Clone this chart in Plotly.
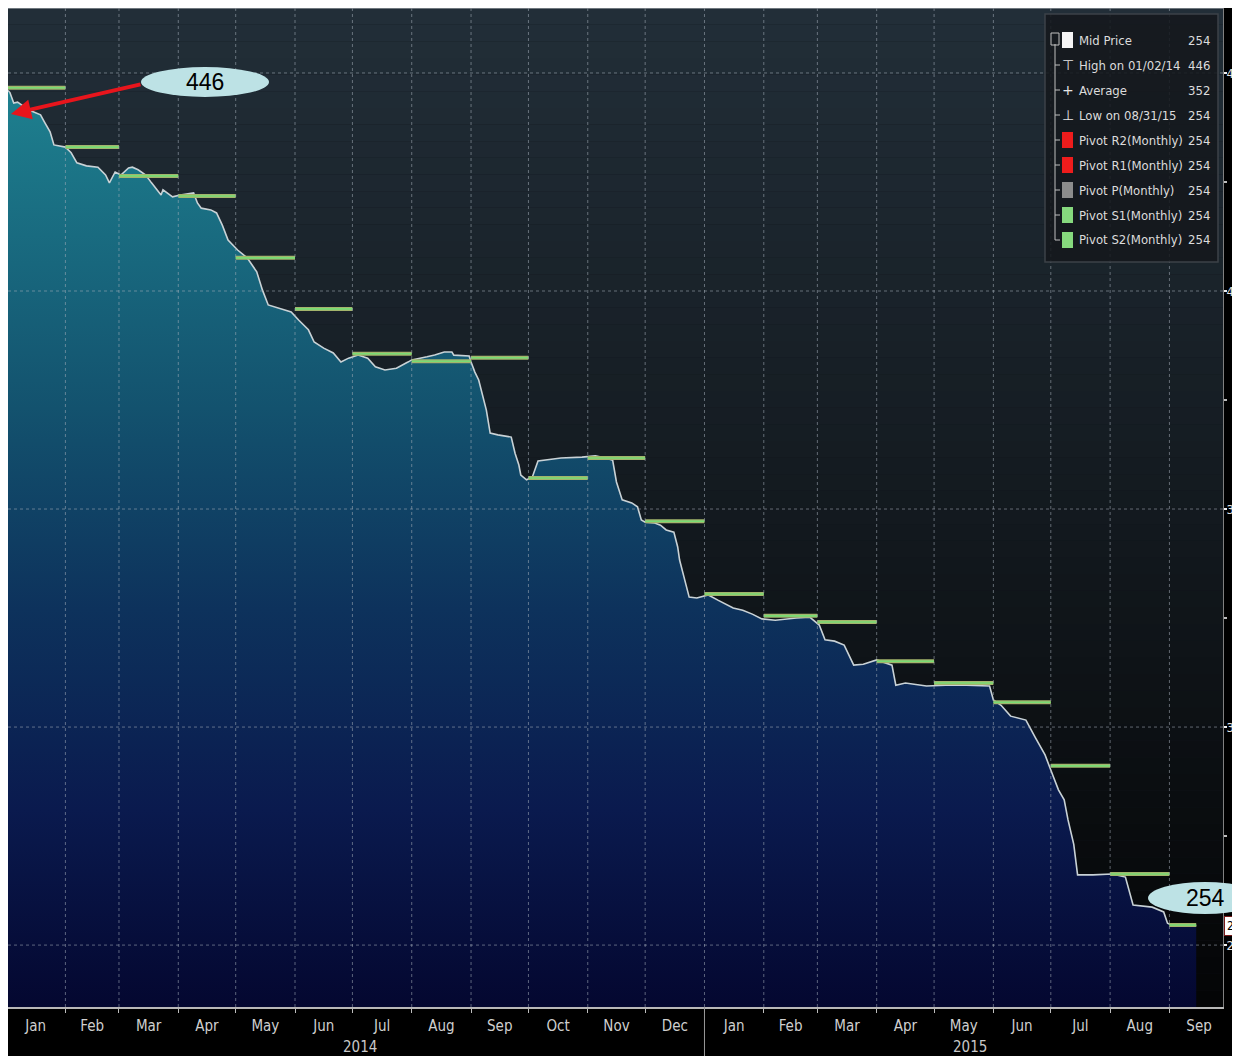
import plotly.graph_objects as go
import pandas as pd

# ---------------- data ----------------
dates = [
    "2014-01-02", "2014-01-03", "2014-01-05", "2014-01-07", "2014-01-13", "2014-01-19", "2014-01-21",
    "2014-01-24", "2014-01-26", "2014-02-01", "2014-02-04", "2014-02-07", "2014-02-12", "2014-02-18",
    "2014-02-22", "2014-02-24", "2014-02-27", "2014-03-02", "2014-03-06", "2014-03-08", "2014-03-11",
    "2014-03-15", "2014-03-18", "2014-03-21", "2014-03-23", "2014-03-24", "2014-03-26", "2014-03-29",
    "2014-04-02", "2014-04-09", "2014-04-11", "2014-04-13", "2014-04-18", "2014-04-21", "2014-04-24",
    "2014-04-27", "2014-05-02", "2014-05-07", "2014-05-12", "2014-05-15", "2014-05-18", "2014-05-23",
    "2014-05-30", "2014-06-03", "2014-06-08", "2014-06-11", "2014-06-16", "2014-06-21", "2014-06-25",
    "2014-06-29", "2014-07-04", "2014-07-09", "2014-07-13", "2014-07-18", "2014-07-24", "2014-07-30",
    "2014-08-01", "2014-08-09", "2014-08-13", "2014-08-18", "2014-08-22", "2014-08-23", "2014-08-31",
    "2014-09-01", "2014-09-03", "2014-09-05", "2014-09-09", "2014-09-11", "2014-09-15", "2014-09-22",
    "2014-09-24", "2014-09-26", "2014-09-27", "2014-09-30", "2014-10-03", "2014-10-06", "2014-10-10",
    "2014-10-18", "2014-10-29", "2014-11-05", "2014-11-12", "2014-11-14", "2014-11-16", "2014-11-19",
    "2014-11-24", "2014-11-27", "2014-11-29", "2014-12-01", "2014-12-06", "2014-12-09", "2014-12-12",
    "2014-12-16", "2014-12-18", "2014-12-19", "2014-12-21", "2014-12-24", "2014-12-28", "2015-01-03",
    "2015-01-08", "2015-01-12", "2015-01-16", "2015-01-21", "2015-01-26", "2015-01-31", "2015-02-07",
    "2015-02-18", "2015-02-25", "2015-03-02", "2015-03-05", "2015-03-10", "2015-03-15", "2015-03-20",
    "2015-03-25", "2015-04-01", "2015-04-09", "2015-04-11", "2015-04-16", "2015-04-27", "2015-05-07",
    "2015-05-18", "2015-05-30", "2015-06-01", "2015-06-05", "2015-06-10", "2015-06-18", "2015-06-23",
    "2015-06-28", "2015-07-02", "2015-07-05", "2015-07-08", "2015-07-10", "2015-07-13", "2015-07-15",
    "2015-07-23", "2015-08-02", "2015-08-09", "2015-08-13", "2015-08-23", "2015-08-29", "2015-08-31",
    "2015-09-02", "2015-09-09", "2015-09-15",
]
mid_price = [
    446.0, 445.5, 443.1, 443.3, 441.5, 440.4, 438.8,
    436.5, 433.5, 433.0, 431.7, 429.4, 428.7, 428.4,
    426.6, 424.8, 427.3, 426.6, 428.2, 428.4, 427.8,
    426.6, 424.8, 423.2, 422.0, 423.2, 422.5, 421.6,
    422.0, 422.5, 420.2, 419.0, 418.6, 417.9, 415.1,
    411.7, 409.4, 407.6, 404.4, 400.2, 396.8, 396.1,
    395.2, 393.3, 391.1, 388.3, 386.9, 385.8, 383.7,
    384.6, 385.3, 384.6, 382.6, 381.9, 382.3, 383.7,
    384.2, 384.9, 385.3, 386.0, 386.0, 385.3, 385.1,
    383.7, 381.4, 379.6, 372.7, 367.4, 367.0, 366.5,
    362.8, 360.1, 357.8, 356.7, 357.3, 361.0, 361.2,
    361.7, 361.9, 362.2, 361.5, 361.2, 356.2, 352.1,
    351.4, 350.5, 347.5, 347.0, 346.8, 346.3, 345.2,
    344.7, 341.3, 338.3, 334.9, 329.8, 329.6, 330.3,
    329.1, 328.2, 327.3, 326.8, 325.9, 324.8, 324.5,
    325.0, 325.2, 323.4, 320.0, 319.7, 318.8, 314.2,
    314.4, 315.4, 314.2, 309.6, 310.1, 309.4, 309.6,
    309.6, 309.4, 306.2, 305.0, 302.5, 301.6, 297.5,
    293.6, 289.0, 285.6, 283.3, 278.7, 273.1, 266.1,
    266.1, 266.3, 265.6, 259.2, 258.7, 257.6, 255.0,
    254.6, 254.6, 254.4,
]

pivot_months = [
    "2014-01", "2014-02", "2014-03", "2014-04", "2014-05", "2014-06", "2014-07",
    "2014-08", "2014-09", "2014-10", "2014-11", "2014-12", "2015-01", "2015-02",
    "2015-03", "2015-04", "2015-05", "2015-06", "2015-07", "2015-08", "2015-09",
]
pivot_levels = [
    446.6, 433.0, 426.4, 421.8, 407.6, 395.9, 385.6,
    383.9, 384.7, 357.1, 361.7, 347.2, 330.5, 325.5,
    324.1, 315.1, 310.1, 305.7, 291.1, 266.3, 254.6,
]

y_ticks = [250, 300, 350, 400, 450]

legend_labels = ["Mid Price", "High on 01/02/14", "Average", "Low on 08/31/15",
                 "Pivot R2(Monthly)", "Pivot R1(Monthly)", "Pivot P(Monthly)",
                 "Pivot S1(Monthly)", "Pivot S2(Monthly)"]
legend_values = ["254", "446", "352", "254", "254", "254", "254", "254", "254"]

callout_high = "446"
callout_last = "254"
year_labels = ["2014", "2015"]

# ---------------- layout helpers (page pixel -> paper) ----------------
# the page body adds an 8 px offset; the figure itself fills the rest
FIG_W, FIG_H = 1232, 1048
L, R, T, B = 8, 1223, 8, 1007   # plot area in page pixels


def px(x):
    return (x - L) / (R - L)


def py(y):
    return (B - y) / (B - T)


FONT = "Liberation Sans Narrow, DejaVu Sans Condensed, DejaVu Sans, sans-serif"

fig = go.Figure()

# mid price area
fig.add_trace(go.Scatter(
    x=dates, y=mid_price, mode="lines",
    line=dict(color="#c9d2d6", width=1.6),
    fill="tozeroy",
    fillgradient=dict(
        type="vertical", start=235.8, stop=446,
        colorscale=[[0.0, "#040730"], [0.215, "#0a1a4e"], [0.434, "#0d325c"],
                    [0.653, "#13526e"], [1.0, "#1e808f"]],
    ),
    hoverinfo="skip",
))

# monthly pivot segments
seg_x, seg_y = [], []
start_all = pd.Timestamp(dates[0])
end_all = pd.Timestamp(dates[-1])
for m, v in zip(pivot_months, pivot_levels):
    s = max(pd.Timestamp(m + "-01"), start_all)
    e = min(pd.Timestamp(m + "-01") + pd.offsets.MonthBegin(1), end_all)
    seg_x += [s, e, None]
    seg_y += [v, v, None]

fig.add_trace(go.Scatter(x=seg_x, y=seg_y, mode="lines",
                         line=dict(color="#a3b46c", width=4), hoverinfo="skip"))
fig.add_trace(go.Scatter(x=seg_x, y=seg_y, mode="lines",
                         line=dict(color="#78dc74", width=1.6), hoverinfo="skip"))

shapes = []

# plot background gradient bands
top_c = (34, 46, 56)
bot_c = (4, 5, 6)
NB = 60
for i in range(NB):
    t = i / (NB - 1)
    c = tuple(int(round(top_c[k] + (bot_c[k] - top_c[k]) * t)) for k in range(3))
    shapes.append(dict(type="rect", xref="paper", yref="paper", layer="below",
                       x0=0, x1=1, y1=1 - i / NB, y0=1 - (i + 1) / NB,
                       line=dict(width=0), fillcolor="rgb(%d,%d,%d)" % c))

# grid lines drawn above the area
grid_col = "rgba(165,175,185,0.55)"
for d in pd.date_range("2014-02-01", "2015-09-01", freq="MS"):
    shapes.append(dict(type="line", xref="x", yref="paper", x0=d, x1=d, y0=0, y1=1,
                       layer="above", line=dict(color=grid_col, width=1, dash="dot")))
for v in y_ticks:
    shapes.append(dict(type="line", xref="paper", yref="y", x0=0, x1=1, y0=v, y1=v,
                       layer="above", line=dict(color=grid_col, width=1, dash="dot")))

# year divider below axis
shapes.append(dict(type="line", xref="x", yref="paper", x0="2015-01-01", x1="2015-01-01",
                   y0=py(1056), y1=0, line=dict(color="#9a9a9a", width=1)))

# top border line
shapes.append(dict(type="line", xref="paper", yref="paper", x0=0, x1=1, y0=1, y1=1,
                   line=dict(color="#8a9096", width=1.5)))

# legend box
shapes.append(dict(type="rect", xref="paper", yref="paper", x0=px(1045), x1=px(1218), y0=py(262), y1=py(14),
                   fillcolor="rgba(20,24,28,0.88)", line=dict(color="#3c4248", width=1.5)))
row_y = [40 + 25 * i for i in range(len(legend_labels))]
# tree line
shapes.append(dict(type="line", xref="paper", yref="paper", x0=px(1055), x1=px(1055), y0=py(row_y[-1]), y1=py(44),
                   line=dict(color="#bfbfbf", width=1)))
shapes.append(dict(type="rect", xref="paper", yref="paper", x0=px(1051), x1=px(1059), y0=py(45), y1=py(33),
                   fillcolor="rgba(0,0,0,0)", line=dict(color="#bfbfbf", width=1)))
for ry in row_y[1:]:
    shapes.append(dict(type="line", xref="paper", yref="paper", x0=px(1055), x1=px(1060), y0=py(ry), y1=py(ry),
                       line=dict(color="#bfbfbf", width=1)))
sq_colors = {0: "#f4f4f4", 4: "#ee1c1c", 5: "#ee1c1c", 6: "#8c8c8c", 7: "#86d97e", 8: "#86d97e"}
for i, col in sq_colors.items():
    ry = row_y[i]
    shapes.append(dict(type="rect", xref="paper", yref="paper", x0=px(1062), x1=px(1073),
                       y0=py(ry + 8), y1=py(ry - 8), fillcolor=col, line=dict(width=0)))

# callout ellipses
shapes.append(dict(type="circle", xref="paper", yref="paper", x0=px(141), x1=px(269), y0=py(97), y1=py(67),
                   fillcolor="#bde2e5", line=dict(width=0)))
shapes.append(dict(type="circle", xref="paper", yref="paper", x0=px(1148), x1=px(1262), y0=py(914), y1=py(882),
                   fillcolor="#bde2e5", line=dict(width=0)))

annotations = []
for i, (lab, val) in enumerate(zip(legend_labels, legend_values)):
    ry = row_y[i]
    annotations.append(dict(xref="paper", yref="paper", x=px(1077), y=py(ry), text=lab, showarrow=False,
                            xanchor="left", yanchor="middle",
                            font=dict(family=FONT, size=13, color="#dcdcdc")))
    annotations.append(dict(xref="paper", yref="paper", x=px(1212), y=py(ry), text=val, showarrow=False,
                            xanchor="right", yanchor="middle",
                            font=dict(family=FONT, size=13, color="#dcdcdc")))
for i, sym in [(1, "\u22a4"), (2, "+"), (3, "\u22a5")]:
    annotations.append(dict(xref="paper", yref="paper", x=px(1068), y=py(row_y[i]), text=sym, showarrow=False,
                            xanchor="center", yanchor="middle",
                            font=dict(family="DejaVu Sans", size=14, color="#e6e6e6")))

# callout texts and arrow
annotations.append(dict(xref="paper", yref="paper", x=px(205), y=py(82), text=callout_high, showarrow=False,
                        xanchor="center", yanchor="middle",
                        font=dict(family="Liberation Sans, Arial, sans-serif", size=23, color="black")))
annotations.append(dict(xref="paper", yref="paper", x=px(1205), y=py(898), text=callout_last, showarrow=False,
                        xanchor="center", yanchor="middle",
                        font=dict(family="Liberation Sans, Arial, sans-serif", size=23, color="black")))
annotations.append(dict(xref="paper", yref="paper", x=px(11), y=py(114), text="", showarrow=True,
                        ax=131, ay=-30, arrowhead=2, arrowsize=1, arrowwidth=4, arrowcolor="#e8151c",
                        standoff=0, startstandoff=0))

# last price badge
annotations.append(dict(xref="paper", yref="y", x=px(1224), y=mid_price[-1], text=legend_values[0],
                        showarrow=False, xanchor="left", yanchor="middle", bgcolor="white",
                        bordercolor="#7a1a1a", borderwidth=1, borderpad=2,
                        font=dict(family=FONT, size=12, color="black")))

# year labels
annotations.append(dict(xref="x", yref="paper", x="2014-07-05", y=py(1047), text=year_labels[0], showarrow=False,
                        xanchor="center", yanchor="middle",
                        font=dict(family=FONT, size=15, color="#c8c8c8")))
annotations.append(dict(xref="x", yref="paper", x="2015-05-20", y=py(1047), text=year_labels[1], showarrow=False,
                        xanchor="center", yanchor="middle",
                        font=dict(family=FONT, size=15, color="#c8c8c8")))

fig.update_layout(
    width=FIG_W, height=FIG_H,
    margin=dict(l=0, r=FIG_W - (R - 8), t=0, b=FIG_H - (B - 8), pad=0, autoexpand=False),
    paper_bgcolor="black", plot_bgcolor="#12171c",
    showlegend=False,
    shapes=shapes, annotations=annotations,
    xaxis=dict(
        type="date", range=["2014-01-02", "2015-09-29"], automargin=False,
        dtick="M1", tick0="2014-01-01", tickformat="%b", ticklabelmode="period",
        showgrid=False, zeroline=False,
        ticks="outside", ticklen=4, tickcolor="#bdbdbd",
        showline=True, linecolor="#b8b8b8", linewidth=2,
        tickfont=dict(family=FONT, size=15, color="#cfcfcf"),
    ),
    yaxis=dict(
        side="right", range=[235.8, 464.9], automargin=False,
        tickvals=y_ticks, ticktext=[str(v) for v in y_ticks],
        showgrid=False, zeroline=False,
        ticks="outside", ticklen=3, tickwidth=2, tickcolor="#f0f0f0",
        ticklabelstandoff=-3,
        showline=True, linecolor="#808080", linewidth=1,
        tickfont=dict(family=FONT, size=13, color="#e6e6e6"),
        minor=dict(dtick=25, tick0=225, ticks="outside", ticklen=3, tickcolor="#bdbdbd", showgrid=False),
    ),
)

fig.write_html("out.html")
